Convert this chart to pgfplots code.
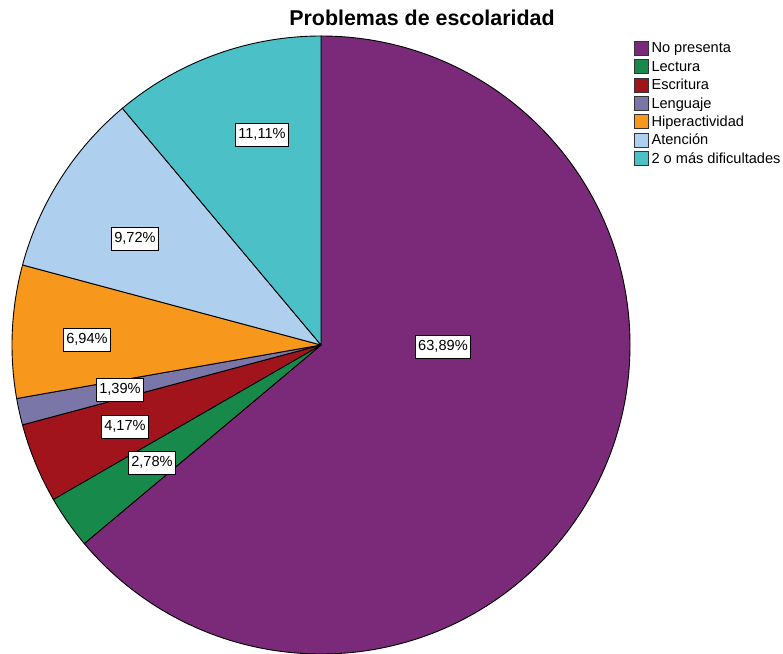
\documentclass[border=0pt]{standalone}
\usepackage{pgfplots}
\pgfplotsset{compat=1.18}
\usepackage{pgfplotstable}
\usepackage{fontspec}
\setmainfont{Liberation Sans}

\definecolor{c0}{HTML}{7B2979}
\definecolor{c1}{HTML}{17894B}
\definecolor{c2}{HTML}{A1141B}
\definecolor{c3}{HTML}{7A77A8}
\definecolor{c4}{HTML}{F7981D}
\definecolor{c5}{HTML}{AED0EE}
\definecolor{c6}{HTML}{4BC1C7}

\tikzset{lab/.style={draw=black, line width=1.2pt, fill=white,
    font=\fontsize{14.6}{16}\selectfont, inner xsep=3pt,
    text height=10.5pt, text depth=3pt, inner ysep=5pt}}

% percentages, clockwise from 12 o'clock
\pgfplotstableread[col sep=comma]{
label,value
No presenta,63.89
Lectura,2.78
Escritura,4.17
Lenguaje,1.39
Hiperactividad,6.94
Atención,9.72
2 o más dificultades,11.11
}\piedata

\begin{document}
\begin{tikzpicture}
\begin{axis}[
    width=783pt, height=653pt, scale only axis,
    xmin=0, xmax=783, ymin=0, ymax=653,
    enlargelimits=false, hide axis, clip=true,
    legend style={at={(axis cs:634,612)}, anchor=north west,
        draw=none, fill=none, inner sep=0pt, row sep=3.5pt,
        font=\fontsize{14.6}{16}\selectfont,
        nodes={inner xsep=2.5pt, inner ysep=1pt}},
    legend cell align=left,
]
\def\angacc{90}
\pgfplotsforeachungrouped \i in {0,...,6}{%
    \pgfplotstablegetelem{\i}{value}\of\piedata
    \pgfmathsetmacro\angnext{\angacc-3.6*\pgfplotsretval}%
    \edef\temp{\noexpand\filldraw[fill=c\i, draw=black, line width=0.9pt, line join=round]
        (axis cs:321,308) -- ++(\angacc:309pt)
        arc[start angle=\angacc, end angle=\angnext, radius=309pt] -- cycle;}%
    \temp
    \global\let\angacc\angnext
}
\pgfplotsforeachungrouped \i in {0,...,6}{%
    \pgfplotstablegetelem{\i}{label}\of\piedata
    \edef\temp{\noexpand\addlegendimage{legend image code/.code={%
        \noexpand\draw[fill=c\i, draw=black!80, line width=0.8pt] (0pt,-7pt) rectangle (14pt,7pt);}}%
        \noexpand\addlegendentry{\pgfplotsretval}}%
    \temp
}
\node[lab] at (axis cs:443,306) {63,89\%};
\node[lab] at (axis cs:152,190) {2,78\%};
\node[lab] at (axis cs:125,226) {4,17\%};
\node[lab] at (axis cs:120,263) {1,39\%};
\node[lab] at (axis cs:87,313) {6,94\%};
\node[lab] at (axis cs:135,414) {9,72\%};
\node[lab] at (axis cs:262,518) {11,11\%};
\node[font=\bfseries\fontsize{21.4}{25}\selectfont] at (axis cs:422,635) {Problemas de escolaridad};
\end{axis}
\pgfresetboundingbox
\useasboundingbox (0,0) rectangle (783pt,653pt);
\end{tikzpicture}
\end{document}
